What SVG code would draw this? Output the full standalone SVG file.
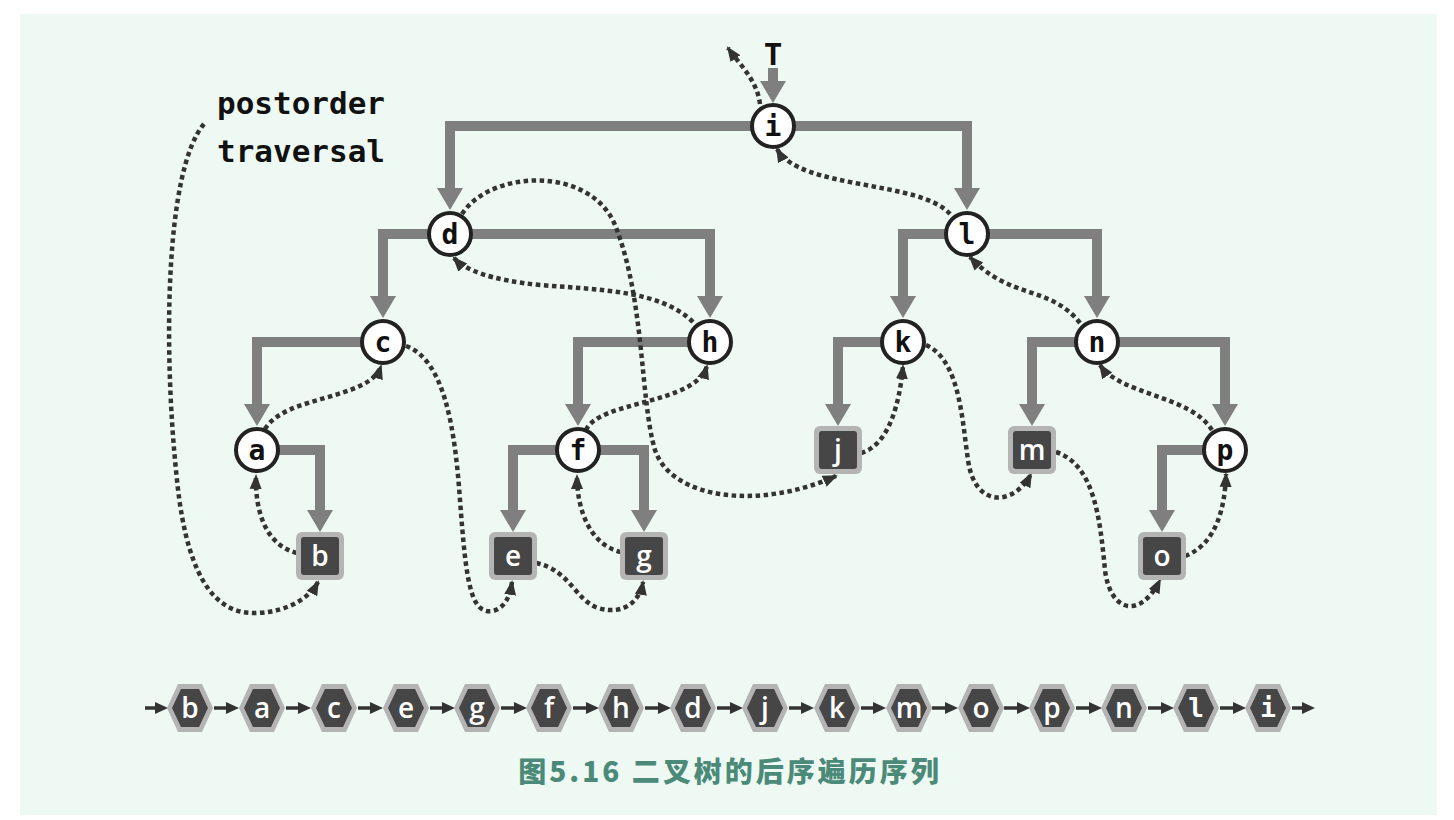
<svg xmlns="http://www.w3.org/2000/svg" width="1454" height="820" viewBox="0 0 1454 820">
<defs>
<style>
.edge{fill:none;stroke:#7f7f7f;stroke-width:10;marker-end:url(#big)}
.dot{fill:none;stroke:#333;stroke-width:4.5;stroke-dasharray:4.5 3.5;marker-end:url(#sm)}
.seq{fill:none;stroke:#333;stroke-width:3.5;marker-end:url(#sq)}
.circ{fill:#fff;stroke:#222;stroke-width:4}
.lbl{font-family:"DejaVu Sans Mono",monospace;font-weight:bold;font-size:28px;fill:#111;text-anchor:middle}
.wl{font-family:"Open Sans","DejaVu Sans",sans-serif;font-weight:600;font-size:28px;fill:#fff;text-anchor:middle}
.wm{font-family:"DejaVu Sans Mono",monospace;font-weight:bold;font-size:26px;fill:#fff;text-anchor:middle}
.sqo{fill:#b4b4b4}
.sqi{fill:#464646}
</style>
<marker id="big" markerUnits="userSpaceOnUse" markerWidth="24" markerHeight="28" refX="2" refY="14" orient="auto"><path d="M0,1 L22,14 L0,27 z" fill="#7f7f7f"/></marker>
<marker id="sm" markerUnits="userSpaceOnUse" markerWidth="16" markerHeight="14" refX="13" refY="7" orient="auto"><path d="M0,1 L15,7 L0,13 z" fill="#333"/></marker>
<marker id="sq" markerUnits="userSpaceOnUse" markerWidth="14" markerHeight="14" refX="6" refY="7" orient="auto"><path d="M0,1 L13,7 L0,13 z" fill="#333"/></marker>
<g id="sqshape"><rect class="sqo" x="-24" y="-24" width="48" height="48" rx="6"/><rect class="sqi" x="-19" y="-19" width="38" height="38" rx="3"/></g>
<g id="hex"><polygon class="sqo" points="-23,0 -12,-24 12,-24 23,0 12,24 -12,24"/><polygon class="sqi" points="-18,0 -9,-19 9,-19 18,0 9,19 -9,19"/></g>
</defs>
<rect width="1454" height="820" fill="#fff"/>
<rect x="20" y="14" width="1417" height="801" fill="#eef9f3"/>

<g id="tree-edges">
<path class="edge" d="M773 68 V83"/>
<path class="edge" d="M773 126 H450 V190"/>
<path class="edge" d="M773 126 H967 V190"/>
<path class="edge" d="M450 234 H383 V298"/>
<path class="edge" d="M450 234 H710 V298"/>
<path class="edge" d="M967 234 H903 V298"/>
<path class="edge" d="M967 234 H1097 V298"/>
<path class="edge" d="M383 342 H257 V406"/>
<path class="edge" d="M710 342 H578 V406"/>
<path class="edge" d="M903 342 H838 V406"/>
<path class="edge" d="M1097 342 H1032 V406"/>
<path class="edge" d="M1097 342 H1225 V406"/>
<path class="edge" d="M257 450 H320 V512"/>
<path class="edge" d="M578 450 H513 V512"/>
<path class="edge" d="M578 450 H644 V512"/>
<path class="edge" d="M1225 450 H1162 V512"/>
</g>

<g id="traversal">
<path class="dot" d="M204 124 C165 170 163 350 177 480 C188 590 222 615 258 613 C290 611 310 597 318 582"/>
<path class="dot" d="M297 553 C265 545 255 510 256 476"/>
<path class="dot" d="M265 429 C285 395 370 400 381 366"/>
<path class="dot" d="M406 346 C445 360 455 430 460 500 C466 580 470 615 493 611 C505 608 510 596 512 582"/>
<path class="dot" d="M536 563 C570 570 575 600 598 608 C625 616 640 600 643 582"/>
<path class="dot" d="M621 552 C590 545 577 510 577 476"/>
<path class="dot" d="M586 430 C600 400 695 405 707 366"/>
<path class="dot" d="M693 322 C660 290 600 290 540 285 C490 280 465 270 454 258"/>
<path class="dot" d="M462 214 C490 170 590 165 615 225 C645 300 640 400 655 450 C672 500 760 510 836 476"/>
<path class="dot" d="M861 453 C890 445 900 400 903 366"/>
<path class="dot" d="M926 345 C960 360 962 420 968 460 C975 510 1015 505 1031 474"/>
<path class="dot" d="M1056 452 C1095 465 1100 520 1105 570 C1110 612 1140 620 1160 580"/>
<path class="dot" d="M1185 556 C1215 545 1225 510 1226 474"/>
<path class="dot" d="M1212 430 C1190 395 1120 395 1100 365"/>
<path class="dot" d="M1080 323 C1050 285 1010 300 970 257"/>
<path class="dot" d="M950 214 C920 180 800 190 777 149"/>
<path class="dot" d="M760 104 C757 80 740 65 728 48"/>
</g>

<g id="node-i"><circle class="circ" cx="773" cy="126" r="21"/><text class="lbl" x="773" y="136">i</text></g>
<g id="node-d"><circle class="circ" cx="450" cy="234" r="21"/><text class="lbl" x="450" y="244">d</text></g>
<g id="node-l"><circle class="circ" cx="967" cy="234" r="21"/><text class="lbl" x="967" y="244">l</text></g>
<g id="node-c"><circle class="circ" cx="383" cy="342" r="21"/><text class="lbl" x="383" y="352">c</text></g>
<g id="node-h"><circle class="circ" cx="710" cy="342" r="21"/><text class="lbl" x="710" y="352">h</text></g>
<g id="node-k"><circle class="circ" cx="903" cy="342" r="21"/><text class="lbl" x="903" y="352">k</text></g>
<g id="node-n"><circle class="circ" cx="1097" cy="342" r="21"/><text class="lbl" x="1097" y="352">n</text></g>
<g id="node-a"><circle class="circ" cx="257" cy="450" r="21"/><text class="lbl" x="257" y="460">a</text></g>
<g id="node-f"><circle class="circ" cx="578" cy="450" r="21"/><text class="lbl" x="578" y="460">f</text></g>
<g id="node-p"><circle class="circ" cx="1225" cy="450" r="21"/><text class="lbl" x="1225" y="460">p</text></g>
<g id="node-j"><use href="#sqshape" x="838" y="450"/><text class="wl" x="838" y="460">j</text></g>
<g id="node-m"><use href="#sqshape" x="1032" y="450"/><text class="wl" x="1032" y="460">m</text></g>
<g id="node-b"><use href="#sqshape" x="320" y="556"/><text class="wl" x="320" y="566">b</text></g>
<g id="node-e"><use href="#sqshape" x="513" y="556"/><text class="wl" x="513" y="566">e</text></g>
<g id="node-g"><use href="#sqshape" x="644" y="556"/><text class="wl" x="644" y="566">g</text></g>
<g id="node-o"><use href="#sqshape" x="1162" y="556"/><text class="wl" x="1162" y="566">o</text></g>

<g id="label-T"><text x="773" y="65" font-family="DejaVu Sans Mono,monospace" font-weight="bold" font-size="31" text-anchor="middle" fill="#111">T</text></g>
<g id="label-postorder" font-family="DejaVu Sans Mono,monospace" font-weight="bold" font-size="31" fill="#111">
<text x="217" y="114">postorder</text>
<text x="217" y="162">traversal</text>
</g>

<g id="sequence-arrows">
<path class="seq" d="M145 708 H161"/>
<path class="seq" d="M214 708 H232"/>
<path class="seq" d="M286 708 H304"/>
<path class="seq" d="M358 708 H376"/>
<path class="seq" d="M430 708 H448"/>
<path class="seq" d="M501 708 H520"/>
<path class="seq" d="M573 708 H592"/>
<path class="seq" d="M645 708 H664"/>
<path class="seq" d="M717 708 H736"/>
<path class="seq" d="M789 708 H807"/>
<path class="seq" d="M861 708 H879"/>
<path class="seq" d="M932 708 H951"/>
<path class="seq" d="M1004 708 H1023"/>
<path class="seq" d="M1076 708 H1095"/>
<path class="seq" d="M1148 708 H1167"/>
<path class="seq" d="M1220 708 H1239"/>
<path class="seq" d="M1292 708 H1308"/>
</g>
<g id="sequence">
<use href="#hex" x="190" y="708"/><text class="wl" x="190" y="718">b</text>
<use href="#hex" x="262" y="708"/><text class="wl" x="262" y="718">a</text>
<use href="#hex" x="334" y="708"/><text class="wl" x="334" y="718">c</text>
<use href="#hex" x="406" y="708"/><text class="wl" x="406" y="718">e</text>
<use href="#hex" x="477" y="708"/><text class="wl" x="477" y="718">g</text>
<use href="#hex" x="549" y="708"/><text class="wl" x="549" y="718">f</text>
<use href="#hex" x="621" y="708"/><text class="wl" x="621" y="718">h</text>
<use href="#hex" x="693" y="708"/><text class="wl" x="693" y="718">d</text>
<use href="#hex" x="765" y="708"/><text class="wl" x="765" y="718">j</text>
<use href="#hex" x="837" y="708"/><text class="wl" x="837" y="718">k</text>
<use href="#hex" x="909" y="708"/><text class="wl" x="909" y="718">m</text>
<use href="#hex" x="981" y="708"/><text class="wl" x="981" y="718">o</text>
<use href="#hex" x="1052" y="708"/><text class="wl" x="1052" y="718">p</text>
<use href="#hex" x="1124" y="708"/><text class="wl" x="1124" y="718">n</text>
<use href="#hex" x="1196" y="708"/><text class="wm" x="1196" y="717">l</text>
<use href="#hex" x="1268" y="708"/><text class="wm" x="1268" y="717">i</text>
</g>

<g id="caption"><text x="730" y="782" font-family="Noto Sans CJK SC,sans-serif" font-weight="900" font-size="28" letter-spacing="3" text-anchor="middle" fill="#4b8a78">图5.16 二叉树的后序遍历序列</text></g>
</svg>
